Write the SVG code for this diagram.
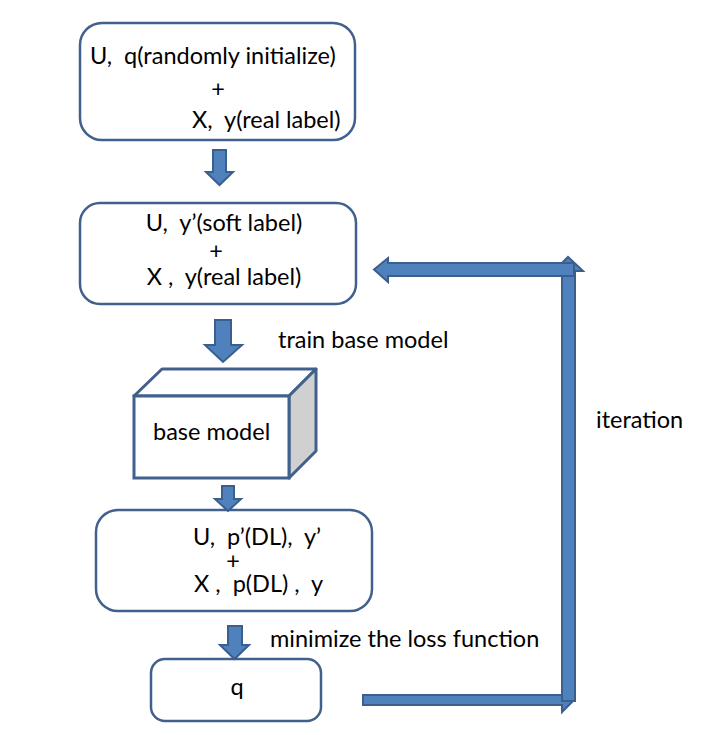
<svg xmlns="http://www.w3.org/2000/svg" width="722" height="735" viewBox="0 0 722 735">
<style>
.box{fill:#fff;stroke:#41608c;stroke-width:2.5}
.arr{fill:#4f81bd;stroke:#3a5f8c;stroke-width:2;stroke-linejoin:miter}
text{font-family:Lato,"Liberation Sans",sans-serif;font-size:23.5px;fill:#000;white-space:pre}
.c{text-anchor:middle}
</style>
<rect width="722" height="735" fill="#fff"/>
<g id="n1">
<rect class="box" x="80" y="23" width="275" height="117" rx="22"/>
<text x="90" y="64" xml:space="preserve">U,  q(randomly initialize)</text>
<text x="218" y="97" class="c">+</text>
<text x="192" y="128" xml:space="preserve">X,  y(real label)</text>
</g>
<g id="n2">
<rect class="box" x="80" y="203" width="276" height="101" rx="20"/>
<text x="224" y="231" class="c" xml:space="preserve">U,  y’(soft label)</text>
<text x="216" y="259" class="c">+</text>
<text x="224" y="285" class="c" xml:space="preserve">X ,  y(real label)</text>
</g>
<g id="n3">
<polygon points="134,396 162,369 316,369 289,396" fill="#fff" stroke="#41608c" stroke-width="3" stroke-linejoin="round"/>
<polygon points="289,396 316,369 316,451 289,478" fill="#d0d0d0" stroke="#41608c" stroke-width="3" stroke-linejoin="round"/>
<rect x="134" y="396" width="155" height="82" fill="#fff" stroke="#41608c" stroke-width="3"/>
<text x="153" y="440">base model</text>
</g>
<g id="n4">
<rect class="box" x="96" y="510" width="276" height="101" rx="22"/>
<text x="193" y="545" xml:space="preserve">U,  p’(DL),  y’</text>
<text x="233" y="569" class="c">+</text>
<text x="194" y="592" xml:space="preserve">X ,  p(DL) ,  y</text>
</g>
<g id="n5">
<rect class="box" x="151" y="659" width="170" height="62" rx="14"/>
<text x="237" y="695" class="c">q</text>
</g>
<g id="connectors">
<polygon class="arr" points="213,150 226,150 226,172 233,172 219.5,185 206,172 213,172"/>
<polygon class="arr" points="215,320 231,320 231,345 242,345 223,362 205,345 215,345"/>
<polygon class="arr" points="222,486 234,486 234,499 241,499 228,511 215,499 222,499"/>
<polygon class="arr" points="228,626 242,626 242,645 249,645 234.5,659 220,645 228,645"/>
<polygon class="arr" points="363,695 562,695 562,688 574,700 562,712 562,705 363,705"/>
<polygon class="arr" points="562,701 562,271 554,271 568,257 583,271 575,271 575,701"/>
<polygon class="arr" points="574,263 574,276 388,276 388,282 374,269.5 388,258 388,263"/>
<text x="278" y="348">train base model</text>
<text x="270" y="647">minimize the loss function</text>
<text x="596" y="428">iteration</text>
</g>
</svg>
